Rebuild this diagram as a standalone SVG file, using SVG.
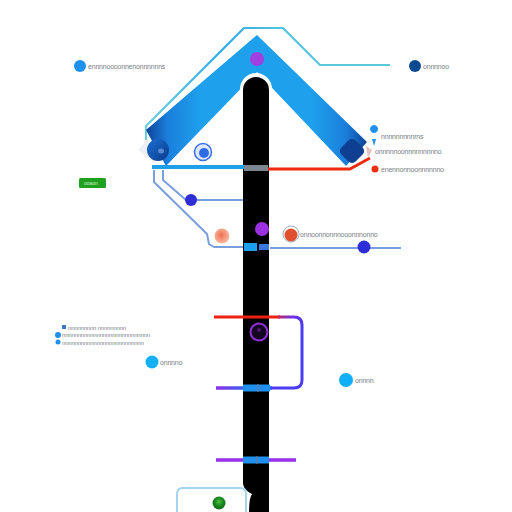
<svg xmlns="http://www.w3.org/2000/svg" width="512" height="512" viewBox="0 0 512 512">
<style>
.lbl{font-family:"Liberation Sans",Arial,sans-serif;font-size:7px;fill:#7a8288;letter-spacing:-0.2px}
.thin{fill:none;stroke:#7b9fdc;stroke-width:2;stroke-linejoin:round}
</style>
<defs>
<linearGradient id="capL" x1="0" y1="0" x2="1" y2="1"><stop offset="0" stop-color="#1a6fd0"/><stop offset="1" stop-color="#0b3a8c"/></linearGradient>
<linearGradient id="band" x1="145" y1="0" x2="368" y2="0" gradientUnits="userSpaceOnUse"><stop offset="0" stop-color="#0d3f92"/><stop offset="0.1" stop-color="#1a7fdc"/><stop offset="0.25" stop-color="#1ea0ec"/><stop offset="0.75" stop-color="#1ea0ec"/><stop offset="0.9" stop-color="#1a7fdc"/><stop offset="1" stop-color="#0d3f92"/></linearGradient>
<linearGradient id="outline" x1="145" y1="130" x2="300" y2="30" gradientUnits="userSpaceOnUse"><stop offset="0" stop-color="#6cd0dc"/><stop offset="0.6" stop-color="#2aa8ea"/><stop offset="1" stop-color="#5cc8dc"/></linearGradient>
<linearGradient id="bot1" x1="215" y1="0" x2="300" y2="0" gradientUnits="userSpaceOnUse"><stop offset="0" stop-color="#9030e8"/><stop offset="0.4" stop-color="#3068f0"/><stop offset="1" stop-color="#3a40f0"/></linearGradient>
<linearGradient id="redblue" x1="270" y1="317" x2="302" y2="330" gradientUnits="userSpaceOnUse"><stop offset="0" stop-color="#f02010"/><stop offset="0.6" stop-color="#7030e8"/><stop offset="1" stop-color="#4a3cf0"/></linearGradient>
<radialGradient id="peach" cx="0.45" cy="0.45" r="0.6"><stop offset="0" stop-color="#f07050"/><stop offset="1" stop-color="#f8c0a8"/></radialGradient>
<radialGradient id="grn" cx="0.5" cy="0.4" r="0.6"><stop offset="0" stop-color="#4cc040"/><stop offset="0.5" stop-color="#1a8a20"/><stop offset="1" stop-color="#0f6a18"/></radialGradient>
</defs>
<rect width="512" height="512" fill="#ffffff"/>

<g id="chevron">
  <polyline points="146,140 146,126 244,28 283,28 320,65 390,65" fill="none" stroke="url(#outline)" stroke-width="2.2" stroke-linejoin="round"/>
  <polygon points="146,130 257,35 367,142 346,166 257,72 166,166" fill="url(#band)"/>
</g>

<g id="bar">
  <path d="M240,89 A16,16 0 0 1 272,89 V140 H240 Z" fill="#ffffff"/>
  <path d="M243,90 A13,13 0 0 1 269,90 V512 H249 Q249,498 252,494 Q244,490 243,484 Z" fill="#000000"/>
</g>

<g id="connectors">
  <polyline class="thin" points="163,170 163,180 186,200 243,200"/>
  <polyline class="thin" points="154,170 154,182 207,234 209,244 214,247 243,247"/>
  <line x1="270" y1="248" x2="401" y2="248" stroke="#7b9fdc" stroke-width="2"/>
  <line x1="152" y1="167" x2="246" y2="167" stroke="#1e9fea" stroke-width="4"/>
  <rect x="244" y="165" width="24" height="6" fill="#7c8690"/>
  <polyline points="268,169 350,169 370,158" fill="none" stroke="#f02a10" stroke-width="3" stroke-linejoin="round"/>
  <rect x="244" y="243" width="13" height="8" fill="#1ea0f0"/>
  <rect x="259" y="244" width="10" height="6" fill="#3a78e0"/>
  <line x1="214" y1="317" x2="280" y2="317" stroke="#f02010" stroke-width="3"/>
  <path d="M278,317 H294 Q302,317 302,325 V380 Q302,388 294,388 H270" fill="none" stroke="url(#redblue)" stroke-width="3"/>
  <line x1="216" y1="388" x2="272" y2="388" stroke="url(#bot1)" stroke-width="3.5"/>
  <rect x="243" y="384.5" width="27" height="7" fill="#2090f0"/>
  <line x1="258" y1="384" x2="258" y2="392" stroke="#7a7a80" stroke-width="1"/>
  <line x1="216" y1="460" x2="296" y2="460" stroke="#9a30e8" stroke-width="3.5"/>
  <rect x="243" y="456.5" width="26" height="7" fill="#2090f0"/>
  <line x1="257" y1="456" x2="257" y2="464" stroke="#7a7a80" stroke-width="1"/>
</g>

<g id="cap-left">
  <path d="M138,150 L148,138 L156,164 Z" fill="#e8eaee" opacity="0.7"/>
  <circle cx="158" cy="150" r="11" fill="url(#capL)"/>
  <ellipse cx="161" cy="151" rx="3" ry="2.5" fill="#5c88d0"/>
</g>
<g id="cap-right">
  <rect x="342" y="141" width="20" height="20" rx="5" fill="#0e3f90" transform="rotate(45 352 151)"/>
  <path d="M366,146 L372,150 L368,158 Z" fill="#e8c0c0"/>
</g>

<g id="apex-node"><circle cx="257" cy="59" r="7" fill="#a040e0"/></g>
<g id="ring-node"><circle cx="203" cy="152" r="8.5" fill="#dfe8fb" stroke="#3a6ee8" stroke-width="1.5"/><circle cx="204" cy="153" r="5" fill="#2e6ce6"/></g>
<g id="node-l1"><circle cx="191" cy="200" r="6" fill="#2e2ed8"/></g>
<g id="node-peach"><circle cx="222" cy="236" r="7.5" fill="url(#peach)"/></g>
<g id="node-purple"><circle cx="262" cy="229" r="7" fill="#9a30e0"/></g>
<g id="node-red"><circle cx="291" cy="234" r="8" fill="none" stroke="#8898b0" stroke-width="0.8"/><circle cx="291" cy="235" r="6.5" fill="#e05030"/><text class="lbl" x="300" y="236.5">onnoonnonnnooonnnonno</text></g>
<g id="node-r2"><circle cx="364" cy="247" r="6.5" fill="#2e2ed8"/></g>
<g id="node-ring-bar"><circle cx="259" cy="332" r="8.5" fill="#140620" stroke="#9030d8" stroke-width="2"/><circle cx="259" cy="330" r="2" fill="#4a1a70"/></g>

<g id="label-tl"><circle cx="80" cy="66" r="6" fill="#1e90f0"/><text class="lbl" x="88" y="68.5">ennnnoooonnenonnnnnns</text></g>
<g id="label-tr"><circle cx="415" cy="66" r="6" fill="#0a4a90"/><text class="lbl" x="423" y="68.5">onnnnoo</text></g>
<g id="label-r1"><path d="M374,133 a4,4 0 1 1 0.1,0 M372,139 L374,146 L376,139" fill="#2090f0"/><text class="lbl" x="381" y="139">nnnnnnnnnrns</text></g>
<g id="label-r2"><text class="lbl" x="375" y="153.5">onnnnnoonnnnnnnnno</text></g>
<g id="label-r3"><circle cx="375" cy="169" r="3.5" fill="#f03010"/><text class="lbl" x="381" y="171.5">enennonnoonnnnnno</text></g>
<g id="label-green"><rect x="79" y="178" width="27" height="10" rx="1.5" fill="#20a020"/><text x="84" y="185" style="font-family:'Liberation Sans',sans-serif;font-size:5px;fill:#c8f0c0">ooaon</text></g>
<g id="label-left">
  <rect x="62" y="325" width="4" height="4" fill="#3a78c8"/>
  <text class="lbl" x="68" y="329.5" style="font-size:6px">nnnnnnnnn nnnnnnnnn</text>
  <circle cx="58" cy="335" r="3" fill="#2090f0"/>
  <text class="lbl" x="62" y="337" style="font-size:6px">nnnnnnnnnnnnnnnnnnnnnnnnnnnn</text>
  <circle cx="58" cy="342" r="2.5" fill="#2090f0"/>
  <text class="lbl" x="62" y="344.5" style="font-size:6px">nnnnnnnnnnnnnnnnnnnnnnnnnn</text>
</g>
<g id="label-lm"><circle cx="152" cy="362" r="6.5" fill="#10b0f8"/><text class="lbl" x="160" y="364.5">onnnno</text></g>
<g id="label-rm"><circle cx="346" cy="380" r="7" fill="#10b0f8"/><text class="lbl" x="355" y="382.5">onnnn</text></g>

<g id="bottom-box">
  <path d="M177,513 V494 Q177,488 183,488 H240 Q246,488 246,494 V513" fill="none" stroke="#a8d4f0" stroke-width="2"/>
  <circle cx="219" cy="503" r="6.5" fill="url(#grn)"/>
</g>
</svg>
